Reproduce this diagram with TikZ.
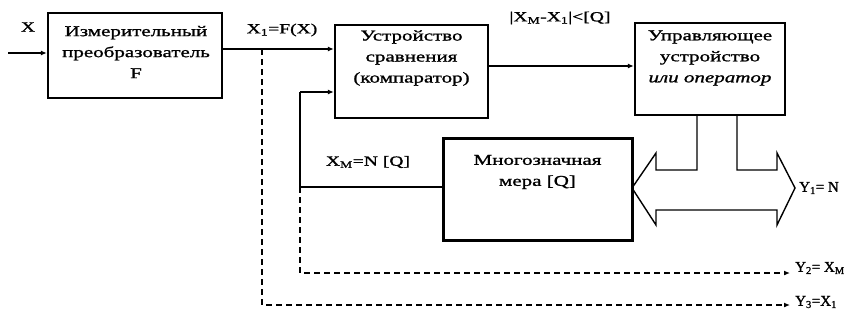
\documentclass[tikz,border=0pt]{standalone}
\usepackage{fontspec}
\setmainfont{Liberation Serif}
\newfontfamily\widefont[FakeStretch=1.4,FakeBold=1.2]{Liberation Serif}
\newfontfamily\boldishfont[FakeBold=1.2]{Liberation Serif}
\usetikzlibrary{arrows.meta}
\tikzset{
  blk/.style={draw, line width=2.4pt, inner sep=0pt},
  txt/.style={font=\widefont\fontsize{15}{21}\selectfont, align=center, inner sep=0pt},
  lbl/.style={font=\widefont\fontsize{14}{16}\selectfont, inner sep=0pt},
  rlbl/.style={font=\boldishfont\fontsize{15}{17}\selectfont, inner sep=0pt, anchor=west},
  con/.style={line width=1.2pt},
  arr/.style={con, -{Latex[length=6pt,width=5pt]}},
  dsh/.style={line width=1.2pt, dash pattern=on 6pt off 4pt, -{Latex[length=6pt,width=5pt]}},
}
\begin{document}
\begin{tikzpicture}[x=1pt,y=-1pt]
\useasboundingbox[fill=white] (0,0) rectangle (849,324);
% boxes
\node[blk, minimum width=174pt, minimum height=85pt] (b1) at (135,55.5) {};
\node[txt] (t1) at (136,52) {Измерительный\\преобразователь\\F};
\node[blk, minimum width=153pt, minimum height=93pt] (b2) at (411.5,71.5) {};
\node[txt] (t2) at (411.5,58) {Устройство\\сравнения\\(компаратор)};
\node[blk, minimum width=150pt, minimum height=92pt] (b3) at (710,69) {};
\node[txt] (t3) at (710,58) {Управляющее\\устройство\\\itshape или оператор};
\node[blk, line width=3pt, minimum width=189pt, minimum height=102pt] (b4) at (537.5,189) {};
\node[txt] (t4) at (537.5,172) {Многозначная\\мера [Q]};
% input
\coordinate (xin) at (8,53);
\draw[arr] (xin) -- (xin -| b1.west);
\node[lbl] (lx) at (28,27) {X};
% X1 line
\coordinate (o1) at (222,49);
\coordinate (j1) at (262,49);
\draw[arr] (o1) -- (o1 -| b2.west);
\node[lbl] (lx1) at (282,30) {X\textsubscript{1}=F(X)};
% comparator output
\coordinate (o2) at (488,66);
\draw[arr] (o2) -- (o2 -| b3.west);
\node[lbl] (ld) at (560,18) {|X\textsubscript{M}-X\textsubscript{1}|<[Q]};
% feedback
\coordinate (f1) at (443,187);
\coordinate (f2) at (300,187);
\coordinate (f3) at (300,92);
\draw[con] (f1) -- (f2) -- (f3);
\draw[arr] (f3) -- (f3 -| b2.west);
\node[lbl] (lxm) at (368,162) {X\textsubscript{M}=N [Q]};
% dashed outputs
\coordinate (d1) at (300,273);
\coordinate (e1) at (790,273);
\draw[dsh] (f2) -- (d1) -- (e1);
\node[rlbl] (ly2) at (795,268) {Y\textsubscript{2}= X\textsubscript{M}};
\coordinate (d2) at (262,305);
\coordinate (e2) at (790,305);
\draw[dsh] (j1) -- (d2) -- (e2);
\node[rlbl] (ly3) at (795,302) {Y\textsubscript{3}=X\textsubscript{1}};
% big double arrow
\draw[line width=1.4pt, line join=miter]
  (697,115) -- (697,170) -- (656,170) -- (656,153) -- (632,188) -- (656,225)
  -- (656,210) -- (777,210) -- (777,225) -- (795,188) -- (777,153) -- (777,170)
  -- (737,170) -- (737,115);
\node[rlbl] (ly1) at (799,188) {Y\textsubscript{1}= N};
\end{tikzpicture}
\end{document}
